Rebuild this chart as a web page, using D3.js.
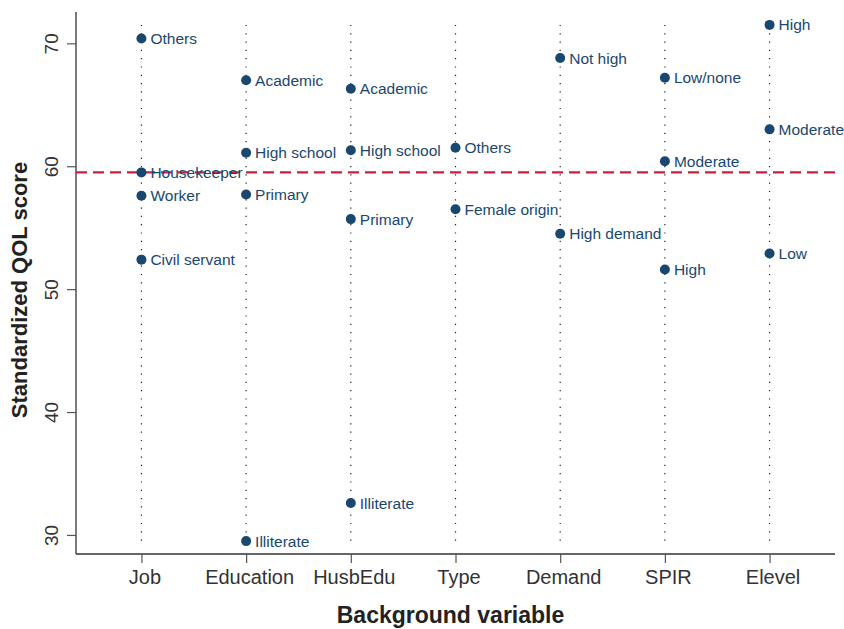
<!DOCTYPE html>
<html>
<head>
<meta charset="utf-8">
<script src="https://cdn.jsdelivr.net/npm/d3@7"></script>
<style>
  body { margin: 0; background: #fff; }
  svg { display: block; font-family: "Liberation Sans", Arial, sans-serif; }
</style>
</head>
<body>
<svg id="chart" width="844" height="629"></svg>
<script>
// Background variables shown along the x axis
const variables = ["Job", "Education", "HusbEdu", "Type", "Demand", "SPIR", "Elevel"];

// Level of each variable, with its standardized QOL score
const levelVariable = ["Job", "Job", "Job", "Job",
  "Education", "Education", "Education", "Education",
  "HusbEdu", "HusbEdu", "HusbEdu", "HusbEdu",
  "Type", "Type",
  "Demand", "Demand",
  "SPIR", "SPIR", "SPIR",
  "Elevel", "Elevel", "Elevel"];
const levelName = ["Others", "Housekeeper", "Worker", "Civil servant",
  "Academic", "High school", "Primary", "Illiterate",
  "Academic", "High school", "Primary", "Illiterate",
  "Others", "Female origin",
  "Not high", "High demand",
  "Low/none", "Moderate", "High",
  "High", "Moderate", "Low"];
const levelScore = [70.4, 59.5, 57.6, 52.4,
  67.0, 61.1, 57.7, 29.5,
  66.3, 61.3, 55.7, 32.6,
  61.5, 56.5,
  68.8, 54.5,
  67.2, 60.4, 51.6,
  71.5, 63.0, 52.9];

// Overall mean score (reference line)
const overallMean = 59.5;

const yTicks = [30, 40, 50, 60, 70];

const points = levelName.map((name, i) => ({
  variable: levelVariable[i], name: name, score: levelScore[i]
}));

const svg = d3.select("#chart");
const plotLeft = 76, plotRight = 835, plotTop = 12, plotBottom = 554;
const navy = "#1a476f";

const x = d3.scalePoint().domain(variables).range([plotLeft, plotRight]).padding(0.625);
const y = d3.scaleLinear().domain([28.45, 72.55]).range([plotBottom, plotTop]);

// Dotted guide per variable
const guideTop = y(d3.max(levelScore));
svg.append("g").selectAll("line").data(variables).join("line")
  .attr("x1", d => x(d)).attr("x2", d => x(d))
  .attr("y1", guideTop).attr("y2", plotBottom - 8)
  .attr("stroke", "#222").attr("stroke-width", 1.2)
  .attr("stroke-dasharray", "1.2,7.1");

// Y axis
const yAxis = svg.append("g").attr("transform", `translate(${plotLeft},0)`)
  .call(d3.axisLeft(y).tickValues(yTicks).tickSize(9).tickPadding(9).tickFormat(d3.format("d")));
yAxis.select(".domain").attr("stroke", "#333").attr("stroke-width", 1.3)
  .attr("d", `M0,${plotTop}V${plotBottom}`);
yAxis.selectAll(".tick line").attr("stroke", "#555").attr("stroke-width", 1.2);
yAxis.selectAll(".tick text")
  .attr("fill", "#333").attr("font-size", 19)
  .attr("font-family", "'Liberation Sans', Arial, sans-serif")
  .attr("text-anchor", "middle")
  .attr("x", null).attr("dy", null)
  .attr("transform", "translate(-18,0) rotate(-90)");

// X axis
const xAxis = svg.append("g").attr("transform", `translate(0,${plotBottom})`)
  .call(d3.axisBottom(x).tickSize(9).tickPadding(7));
xAxis.select(".domain").attr("stroke", "#333").attr("stroke-width", 1.3)
  .attr("d", `M${plotLeft},0H${plotRight}`);
xAxis.selectAll(".tick line").attr("stroke", "#555").attr("stroke-width", 1.2);
xAxis.selectAll(".tick text")
  .attr("fill", "#333").attr("font-size", 20)
  .attr("font-family", "'Liberation Sans', Arial, sans-serif")
  .attr("dx", 3)
  .attr("dy", "0.71em");

// Reference line at the overall mean
svg.append("line")
  .attr("x1", plotLeft).attr("x2", plotRight)
  .attr("y1", y(overallMean)).attr("y2", y(overallMean))
  .attr("stroke", "#c8203e").attr("stroke-width", 2.2)
  .attr("stroke-dasharray", "11,6");

// Points and their labels
const g = svg.append("g");
g.selectAll("circle").data(points).join("circle")
  .attr("cx", d => x(d.variable)).attr("cy", d => y(d.score))
  .attr("r", 5).attr("fill", navy);
g.selectAll("text").data(points).join("text")
  .attr("x", d => x(d.variable) + 9).attr("y", d => y(d.score))
  .attr("dy", "0.36em")
  .attr("fill", navy).attr("font-size", 15.5)
  .text(d => d.name);

// Axis titles
svg.append("text")
  .attr("transform", `translate(27,${(plotTop + plotBottom) / 2 + 7}) rotate(-90)`)
  .attr("text-anchor", "middle").attr("font-weight", "bold")
  .attr("font-size", 22).attr("fill", "#222")
  .text("Standardized QOL score");
svg.append("text")
  .attr("x", (plotLeft + plotRight) / 2 - 5).attr("y", 623)
  .attr("text-anchor", "middle").attr("font-weight", "bold")
  .attr("font-size", 23).attr("fill", "#222")
  .text("Background variable");
</script>
</body>
</html>
